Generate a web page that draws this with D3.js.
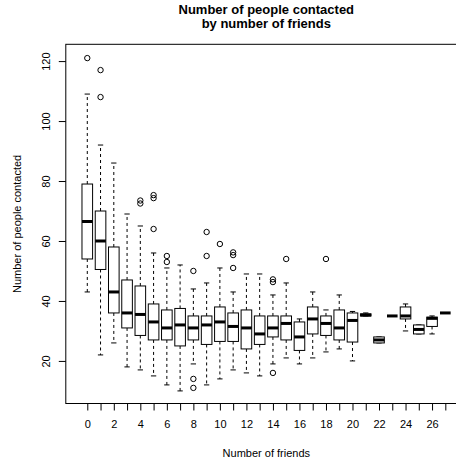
<!DOCTYPE html>
<html>
<head>
<meta charset="utf-8">
<script src="https://cdn.jsdelivr.net/npm/d3@7"></script>
<style>
  body { margin: 0; background: #fff; }
  svg { display: block; font-family: "Liberation Sans", Arial, Helvetica, sans-serif; }
</style>
</head>
<body>
<script>
// boxplot stats per number of friends
const friends = d3.range(0, 28);
const lowWhisker = [43, 22, 26, 18, 17, 15, 12, 10, 19, 12, 14, 17, 16, 15, 19, 21, 19, 21, 23, 24, 20, 35, 26, 35, 30, 29, 29, 36];
const q1 =         [54, 50.5, 36, 31, 28.5, 27, 27, 25, 27, 25.5, 26.5, 26.5, 24, 25.5, 28, 27, 23.5, 29, 28.5, 27, 26.3, 35, 26, 35, 34, 29, 31.5, 36];
const median =     [66.5, 60, 43, 36, 35.5, 33, 31, 32, 31, 32, 33, 31.5, 31, 29, 31, 32.5, 28, 34, 32.5, 31, 33.5, 35.3, 27, 35, 35, 30.5, 34.2, 36];
const q3 =         [79, 70, 58, 47, 45, 39, 37, 37.5, 35, 35, 38, 36, 37, 35, 35, 35, 33, 38, 35, 37, 36, 35.7, 28, 35, 38, 32, 34.6, 36];
const highWhisker = [109, 92, 86, 69, 65, 56, 51, 52, 44, 46, 51, 43, 49, 49, 42, 46, 34, 43, 37, 42, 36.5, 36, 28, 35, 39, 32, 35, 36];
// [friends, contacted]
const outliers = [
  [0, 121], [1, 117], [1, 108], [4, 72.5], [4, 73.5], [5, 74.3], [5, 75.3], [5, 64],
  [6, 55], [6, 53], [8, 50], [8, 14], [8, 11], [9, 63], [9, 55], [10, 59],
  [11, 56.2], [11, 55.3], [11, 51], [14, 47.2], [14, 46.3], [14, 16], [15, 54], [18, 54]
];
const yTicks = [20, 40, 60, 80, 100, 120];

const width = 456, height = 461;
const svg = d3.select('body').append('svg')
  .attr('width', width)
  .attr('height', height);

const x = d3.scaleLinear().domain([-1.62, 28.62]).range([65.8, 466.8]);
const y = d3.scaleLinear().domain([5.8, 125.6]).range([403.5, 44.3]);
const unit = x(1) - x(0);
const boxW = unit * 0.8;
const capW = boxW * 0.5;

// title
svg.append('text')
  .attr('x', (x.range()[0] + x.range()[1]) / 2)
  .attr('y', 13.5)
  .attr('text-anchor', 'middle')
  .attr('font-weight', 'bold')
  .attr('font-size', 13)
  .selectAll('tspan')
  .data(['Number of people contacted', 'by number of friends'])
  .join('tspan')
  .attr('x', (x.range()[0] + x.range()[1]) / 2)
  .attr('dy', (d, i) => i ? 14.5 : 0)
  .text(d => d);

const g = svg.append('g');

// whiskers
const groups = g.selectAll('g.box')
  .data(friends)
  .join('g')
  .attr('class', 'box');

groups.append('line')
  .attr('x1', d => x(d)).attr('x2', d => x(d))
  .attr('y1', d => y(q3[d])).attr('y2', d => y(highWhisker[d]))
  .attr('stroke', '#000').attr('stroke-dasharray', '3,3');
groups.append('line')
  .attr('x1', d => x(d)).attr('x2', d => x(d))
  .attr('y1', d => y(q1[d])).attr('y2', d => y(lowWhisker[d]))
  .attr('stroke', '#000').attr('stroke-dasharray', '3,3');
groups.append('line')
  .attr('x1', d => x(d) - capW / 2).attr('x2', d => x(d) + capW / 2)
  .attr('y1', d => y(highWhisker[d])).attr('y2', d => y(highWhisker[d]))
  .attr('stroke', '#000');
groups.append('line')
  .attr('x1', d => x(d) - capW / 2).attr('x2', d => x(d) + capW / 2)
  .attr('y1', d => y(lowWhisker[d])).attr('y2', d => y(lowWhisker[d]))
  .attr('stroke', '#000');

// boxes
groups.append('rect')
  .attr('x', d => x(d) - boxW / 2)
  .attr('width', boxW)
  .attr('y', d => y(q3[d]))
  .attr('height', d => y(q1[d]) - y(q3[d]))
  .attr('fill', '#fff')
  .attr('stroke', '#000');

// medians
groups.append('line')
  .attr('x1', d => x(d) - boxW / 2).attr('x2', d => x(d) + boxW / 2)
  .attr('y1', d => y(median[d])).attr('y2', d => y(median[d]))
  .attr('stroke', '#000').attr('stroke-width', 3);

// outliers
g.selectAll('circle')
  .data(outliers)
  .join('circle')
  .attr('cx', d => x(d[0]))
  .attr('cy', d => y(d[1]))
  .attr('r', 2.7)
  .attr('fill', 'none')
  .attr('stroke', '#000');

// plot frame
svg.append('rect')
  .attr('x', x.range()[0]).attr('y', y.range()[1])
  .attr('width', x.range()[1] - x.range()[0])
  .attr('height', y.range()[0] - y.range()[1])
  .attr('fill', 'none').attr('stroke', '#000');

// x axis
const xAxis = svg.append('g')
  .attr('transform', `translate(0,${y.range()[0]})`)
  .call(d3.axisBottom(x)
    .tickValues(friends)
    .tickFormat(d => d % 2 === 0 ? d : '')
    .tickSize(7)
    .tickPadding(10));
xAxis.select('.domain').remove();
xAxis.selectAll('text').attr('font-size', 11).attr('font-family', null);

// y axis
const yAxis = svg.append('g')
  .attr('transform', `translate(${x.range()[0]},0)`)
  .call(d3.axisLeft(y).tickValues(yTicks).tickSize(7));
yAxis.select('.domain').remove();
yAxis.selectAll('text')
  .attr('font-size', 11)
  .attr('font-family', null)
  .attr('x', null).attr('dy', null)
  .attr('text-anchor', 'middle')
  .attr('transform', d => `translate(-15.8,0) rotate(-90)`);

// axis titles
svg.append('text')
  .attr('x', (x.range()[0] + x.range()[1]) / 2)
  .attr('y', 457)
  .attr('text-anchor', 'middle')
  .attr('font-size', 11)
  .text('Number of friends');
svg.append('text')
  .attr('transform', `translate(21,${(y.range()[0] + y.range()[1]) / 2}) rotate(-90)`)
  .attr('text-anchor', 'middle')
  .attr('font-size', 11)
  .text('Number of people contacted');
</script>
</body>
</html>
